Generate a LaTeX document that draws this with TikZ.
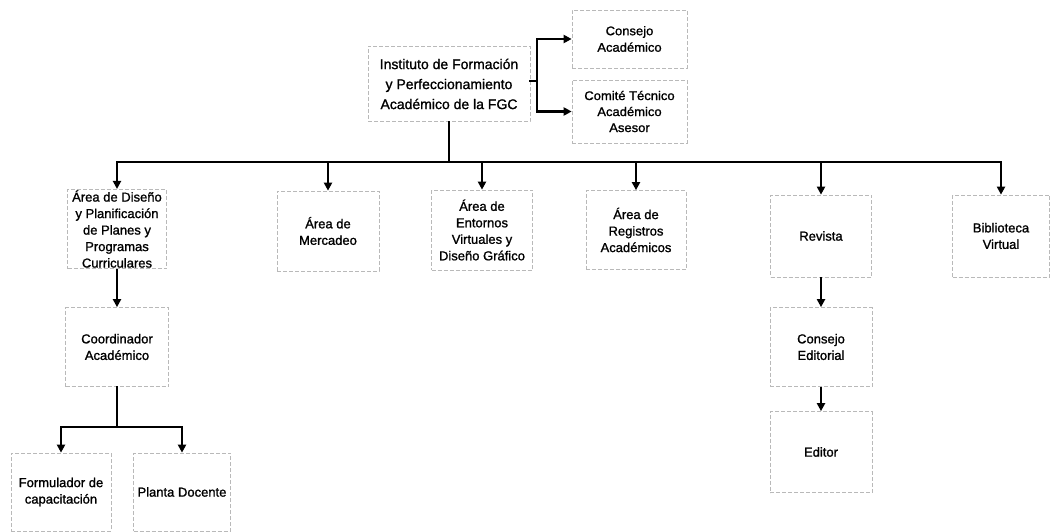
\documentclass[tikz,border=0pt]{standalone}
\usepackage{fontspec}
\setmainfont[FakeBold=1.2]{Liberation Sans}
\newfontfamily\widefont[FakeStretch=1.04,FakeBold=1.2]{Liberation Sans}
\usetikzlibrary{arrows.meta}
\begin{document}
\begin{tikzpicture}[x=1pt,y=-1pt,
 box/.style={draw=gray!55, dash pattern=on 4pt off 2pt, line width=0.7pt, align=center, inner sep=1pt, font=\fontsize{13}{16.5}\selectfont, text=black},
 arr/.style={line width=2.2pt, -{Triangle[length=8pt,width=8pt]}},
 ln/.style={line width=2.2pt, line cap=rect}]
\useasboundingbox (0,0) rectangle (1051,532);
% top
\node[box, minimum width=162pt, minimum height=75pt, font=\fontsize{14}{20}\selectfont] (root) at (449,84) {Instituto de Formación\\y Perfeccionamiento\\Académico de la FGC};
\node[box, minimum width=115pt, minimum height=58pt, font=\widefont\fontsize{12.5}{16.5}\selectfont] (ca) at (629.5,39) {Consejo\\Académico};
\node[box, minimum width=115pt, minimum height=63pt, font=\widefont\fontsize{12.5}{16}\selectfont] (ct) at (629.5,111.5) {Comité Técnico\\Académico\\Asesor};
% level 1
\node[box, minimum width=99pt, minimum height=79pt] (d1) at (117,229) {Área de Diseño\\y Planificación\\de Planes y\\Programas\\Curriculares};
\node[box, minimum width=102pt, minimum height=80pt] (d2) at (328,231) {Área de\\Mercadeo};
\node[box, minimum width=101pt, minimum height=80pt] (d3) at (482,230) {Área de\\Entornos\\Virtuales y\\Diseño Gráfico};
\node[box, minimum width=100pt, minimum height=79pt] (d4) at (636,230) {Área de\\Registros\\Académicos};
\node[box, minimum width=101pt, minimum height=82pt] (d5) at (821,236) {Revista};
\node[box, minimum width=97pt, minimum height=82pt] (d6) at (1001,236) {Biblioteca\\Virtual};
% lower left
\node[box, minimum width=103pt, minimum height=79pt] (coord) at (117,347) {Coordinador\\Académico};
\node[box, minimum width=100pt, minimum height=78pt] (form) at (61,492) {Formulador de\\capacitación};
\node[box, minimum width=97pt, minimum height=78pt] (planta) at (182,492) {Planta Docente};
% lower right
\node[box, minimum width=102pt, minimum height=79pt] (ce) at (821,347) {Consejo\\Editorial};
\node[box, minimum width=102pt, minimum height=81pt] (ed) at (821,452) {Editor};
% connectors
\coordinate (rj) at (537,0);
\coordinate (bus) at (0,162);
\coordinate (j2) at (0,427);
\draw[ln] ([yshift=3pt]root.east) -- ([yshift=3pt]root.east -| rj);
\draw[ln] (ca.west -| rj) -- (ct.west -| rj);
\draw[arr] (ca.west -| rj) -- (ca.west);
\draw[arr] (ct.west -| rj) -- (ct.west);
\draw[ln] (root.south) -- (root.south |- bus);
\draw[ln] (d1.north |- bus) -- (d6.north |- bus);
\foreach \n in {d1,d2,d3,d4,d5,d6}{\draw[arr] (\n.north |- bus) -- (\n.north);}
\draw[arr] (d1.south) -- (coord.north);
\draw[ln] (coord.south) -- (coord.south |- j2);
\draw[ln] (form.north |- j2) -- (planta.north |- j2);
\draw[arr] (form.north |- j2) -- (form.north);
\draw[arr] (planta.north |- j2) -- (planta.north);
\draw[arr] (d5.south) -- (ce.north);
\draw[arr] (ce.south) -- (ed.north);
\end{tikzpicture}
\end{document}
